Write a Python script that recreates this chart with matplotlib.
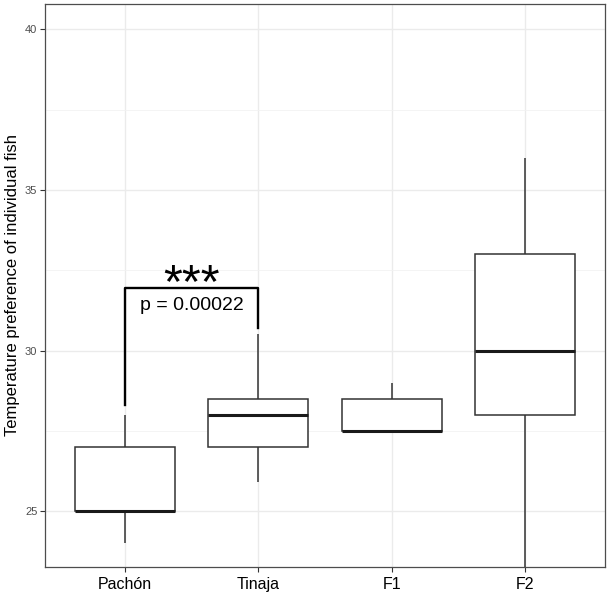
import numpy as np
import matplotlib.pyplot as plt
from matplotlib.patches import Rectangle

plt.rcParams['font.family'] = ['Liberation Sans', 'DejaVu Sans']

groups = ['Pachón', 'Tinaja', 'F1', 'F2']
whisker_lo = [24.0, 25.9, 27.5, 23.2]
q1 = [25.0, 27.0, 27.5, 28.0]
median = [25.0, 28.0, 27.5, 30.0]
q3 = [27.0, 28.5, 28.5, 33.0]
whisker_hi = [28.0, 30.5, 29.0, 36.0]

# significance bracket between Pachón and Tinaja
bracket_top = 31.95
bracket_legs = [28.3, 30.7]
p_label = 'p = 0.00022'
star_label = '***'

fig = plt.figure(figsize=(6.14, 5.98), dpi=100)
ax = fig.add_axes([45 / 614, 1 - 567 / 598, 560 / 614, 563 / 598])

xs = np.arange(1, len(groups) + 1)
w = 0.75
edge = '#333333'
for x, lo, a, m, b, hi in zip(xs, whisker_lo, q1, median, q3, whisker_hi):
    ax.plot([x, x], [lo, a], color=edge, lw=1.1, zorder=3, solid_capstyle='butt')
    ax.plot([x, x], [b, hi], color=edge, lw=1.1, zorder=3, solid_capstyle='butt')
    ax.add_patch(Rectangle((x - w / 2, a), w, b - a, facecolor='white',
                           edgecolor=edge, lw=1.1, zorder=4))
    ax.plot([x - w / 2, x + w / 2], [m, m], color='#1a1a1a', lw=2.2, zorder=5,
            solid_capstyle='butt')

# bracket
ax.plot([xs[0], xs[0], xs[1], xs[1]],
        [bracket_legs[0], bracket_top, bracket_top, bracket_legs[1]],
        color='black', lw=1.7, zorder=6)
xm = (xs[0] + xs[1]) / 2
ax.text(xm, 31.68, star_label, ha='center', va='baseline', fontsize=35, zorder=7)
ax.text(xm, 31.26, p_label, ha='center', va='baseline', fontsize=14, zorder=7)

ax.set_xlim(0.4, 4.6)
ax.set_ylim(23.26, 40.79)
ax.set_xticks(xs)
ax.set_xticklabels(groups, fontsize=11.5, color='black')
ax.set_yticks([25, 30, 35, 40])
ax.set_yticks([27.5, 32.5, 37.5], minor=True)
ax.tick_params(axis='y', labelsize=8, labelcolor='#4d4d4d', length=3.5,
               color='#333333', width=0.8, pad=2)
ax.tick_params(axis='y', which='minor', length=0)
ax.tick_params(axis='x', length=3.5, color='#333333', width=0.8, pad=4)
ax.grid(True, which='major', color='#ebebeb', lw=1.0)
ax.grid(True, which='minor', color='#f2f2f2', lw=0.6)
ax.set_axisbelow(True)
for s in ax.spines.values():
    s.set_color('#4d4d4d')
    s.set_linewidth(0.9)

ax.set_ylabel('Temperature preference of individual fish', fontsize=12)
ax.yaxis.set_label_coords(-25 / 560, 0.5)

fig.savefig('out.png', dpi=100)
